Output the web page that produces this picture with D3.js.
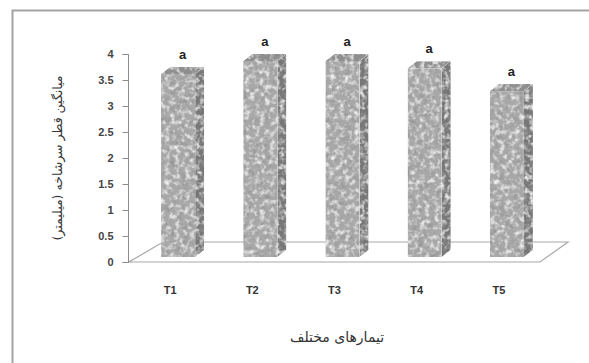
<!DOCTYPE html>
<html><head><meta charset="utf-8">
<script src="https://cdn.jsdelivr.net/npm/d3@7"></script>
<style>html,body{margin:0;padding:0;background:#fff;}svg{display:block;}</style>
</head><body>
<script>
const categories = ["T1","T2","T3","T4","T5"];
const values = [3.52, 3.77, 3.77, 3.63, 3.19];
const letters = ["a","a","a","a","a"];
const yTicks = [0, 0.5, 1, 1.5, 2, 2.5, 3, 3.5, 4];
const yTickLabels = ["0","0.5","1","1.5","2","2.5","3","3.5","4"];
const yTitle = "میانگین قطر سرشاخه (میلیمتر)";
const xTitle = "تیمارهای مختلف";

const W = 589, H = 363;
const svg = d3.select("body").append("svg").attr("width", W).attr("height", H);

const defs = svg.append("defs");
const f = defs.append("filter").attr("id","granite").attr("x",0).attr("y",0).attr("width",1).attr("height",1)
  .attr("filterUnits","objectBoundingBox").attr("primitiveUnits","userSpaceOnUse");
f.append("feTurbulence").attr("type","fractalNoise").attr("baseFrequency","0.17").attr("numOctaves",3).attr("seed",7).attr("result","t1");
f.append("feColorMatrix").attr("in","t1").attr("type","matrix")
  .attr("values","0 0 0 0 0.3  0 0 0 0 0.3  0 0 0 0 0.3  2.8 0 0 0 -1.4").attr("result","dark");
f.append("feTurbulence").attr("type","fractalNoise").attr("baseFrequency","0.2").attr("numOctaves",2).attr("seed",19).attr("result","t2");
f.append("feColorMatrix").attr("in","t2").attr("type","matrix")
  .attr("values","0 0 0 0 0.9  0 0 0 0 0.9  0 0 0 0 0.9  2.6 0 0 0 -1.2").attr("result","light");
f.append("feComposite").attr("in","dark").attr("in2","SourceAlpha").attr("operator","in").attr("result","darkC");
f.append("feComposite").attr("in","light").attr("in2","SourceAlpha").attr("operator","in").attr("result","lightC");
const m = f.append("feMerge").attr("result","merged");
m.append("feMergeNode").attr("in","SourceGraphic");
m.append("feMergeNode").attr("in","lightC");
m.append("feMergeNode").attr("in","darkC");
f.append("feGaussianBlur").attr("in","merged").attr("stdDeviation",0.5).attr("result","bl");
f.append("feComposite").attr("in","bl").attr("in2","SourceAlpha").attr("operator","in");

// frame
svg.append("path").attr("d","M12.5,363 L12.5,10.5 L589,10.5").attr("fill","none").attr("stroke","#a3a3a3").attr("stroke-width",2);

const x0 = 129, x1 = 540, yBase = 262, yTop = 54;
const y = d3.scaleLinear().domain([0,4]).range([yBase, yTop]);
const x = d3.scaleBand().domain(categories).range([x0, x1]).paddingInner(0.585).paddingOuter(0.2925);
const depthX = 8, depthY = -5;   // bar placement inside floor
const bdx = 9, bdy = -7;         // bar depth

// floor
svg.append("path")
  .attr("d", `M${x0},${yBase} L${x1},${yBase} L568,242 L163,242 Z`)
  .attr("fill","#fff").attr("stroke","#a8a8a8").attr("stroke-width",1.2);

// y axis
const yAxis = d3.axisLeft(y).tickValues(yTicks).tickFormat((d,i)=>yTickLabels[i]).tickSize(6).tickPadding(9);
const ga = svg.append("g").attr("transform",`translate(${x0 - 0.5},0)`).call(yAxis);
ga.select(".domain").attr("stroke","#8c8c8c").attr("d",`M-6,${yTop}.5H0V${yBase}.5H-6`);
ga.selectAll(".tick line").attr("stroke","#8c8c8c");
ga.selectAll(".tick text").attr("fill","#444").style("font","bold 11px 'Liberation Sans', Arial, sans-serif");

// bars
const bars = svg.append("g").selectAll("g").data(categories).join("g");
bars.each(function(c,i){
  const g = d3.select(this);
  const xl = x(c) + depthX, xr = xl + x.bandwidth();
  const yb = y(0) + depthY, yt = y(values[i]) + depthY;
  g.append("path").attr("d",`M${xr},${yt} L${xr+bdx},${yt+bdy} L${xr+bdx},${yb+bdy} L${xr},${yb} Z`)
    .attr("fill","#777").attr("filter","url(#granite)");
  g.append("path").attr("d",`M${xl},${yt} L${xl+bdx},${yt+bdy} L${xr+bdx},${yt+bdy} L${xr},${yt} Z`)
    .attr("fill","#8e8e8e").attr("filter","url(#granite)");
  g.append("rect").attr("x",xl).attr("y",yt).attr("width",xr-xl).attr("height",yb-yt)
    .attr("fill","#a8a8a8").attr("filter","url(#granite)");
  g.append("text").attr("x",(xl+xr+bdx)/2).attr("y",yt+bdy-8).attr("text-anchor","middle")
    .attr("fill","#222").style("font","bold 13px 'Liberation Sans', Arial, sans-serif").text(letters[i]);
});

// x labels
svg.append("g").selectAll("text").data(categories).join("text")
  .attr("x", c => x(c) + x.bandwidth()/2).attr("y", 294).attr("text-anchor","middle")
  .attr("fill","#333").style("font","bold 11px 'Liberation Sans', Arial, sans-serif").text(c=>c);

// titles
svg.append("text").attr("x", 337).attr("y", 342).attr("text-anchor","middle").attr("direction","rtl")
  .attr("fill","#333").style("font","14px 'DejaVu Sans', sans-serif").text(xTitle);
svg.append("text").attr("transform","translate(62,158) rotate(-90)").attr("text-anchor","middle").attr("direction","rtl")
  .attr("fill","#333").style("font","12.5px 'DejaVu Sans', sans-serif").text(yTitle);
</script>
</body></html>
